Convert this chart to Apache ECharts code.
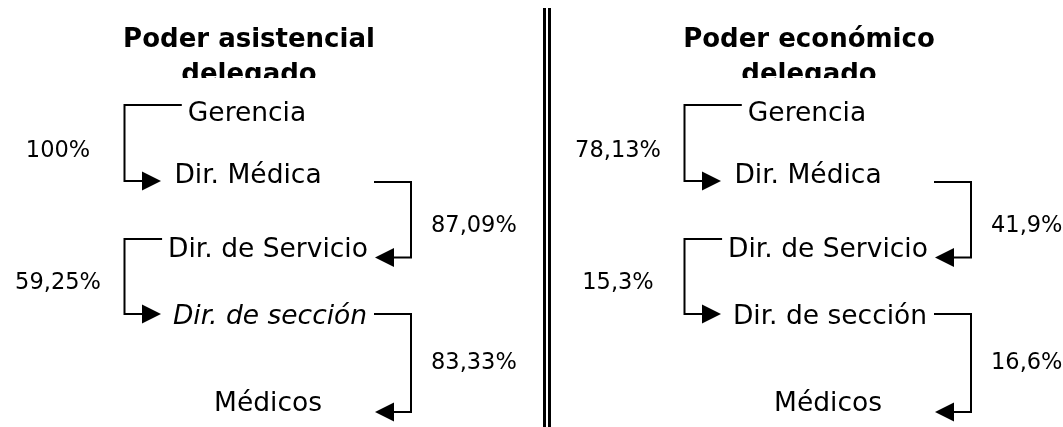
<!DOCTYPE html>
<html>
<head>
<meta charset="utf-8">
<title>Poder delegado</title>
<script src="https://cdn.jsdelivr.net/npm/echarts@6/dist/echarts.min.js"></script>
<style>
  html, body { margin: 0; padding: 0; background: #fff; }
  #chart { width: 1063px; height: 427px; }
</style>
</head>
<body>
<div id="chart"></div>
<script>
// datos
const levels = ['Gerencia', 'Dir. Médica', 'Dir. de Servicio', 'Dir. de sección', 'Médicos']
const panels = ['Poder asistencial\ndelegado', 'Poder económico\ndelegado']
const asistencial = [100, 87.09, 59.25, 83.33]
const economico = [78.13, 41.9, 15.3, 16.6]

// maquetación (px)
const FONT = '"DejaVu Sans", Verdana, sans-serif'
const NODE_SIZE = 26.5
const PCT_SIZE = 22.5
const AR = 19 // flecha
const rowShift = [0, -10.5, -9.5, -14.5, 0]
const nodeDx = [-11, -10, 10, 12, 10]
const linkSide = ['left', 'right', 'left', 'right']
const linkTop = [-7, 8, -8.5, -1]
const linkEnd = [7, 10, -1, 10]
const labelDy = [7, 5, 6, -1]

const measure = document.createElement('canvas').getContext('2d')
function textWidth(txt, size) {
  measure.font = size + 'px ' + FONT
  return measure.measureText(txt).width
}
function pct(v) {
  return String(v).replace('.', ',') + '%'
}

const nodeData = []
const linkData = []
;[asistencial, economico].forEach((vals, p) => {
  levels.forEach((name, i) => nodeData.push([p, i]))
  vals.forEach((v, i) => linkData.push([p, i, v]))
})

function renderNode(params, api) {
  const p = api.value(0)
  const i = api.value(1)
  const pt = api.coord([p, i])
  const italic = p === 0 && i === 3
  return {
    type: 'text',
    style: {
      text: levels[i],
      x: pt[0] + nodeDx[i],
      y: pt[1] + rowShift[i] + 2.5,
      align: 'center',
      verticalAlign: 'middle',
      font: (italic ? 'italic ' : '') + NODE_SIZE + 'px ' + FONT,
      fill: '#000'
    }
  }
}

function renderLink(params, api) {
  const p = api.value(0)
  const i = api.value(1)
  const v = api.value(2)
  const a = api.coord([p, i])
  const b = api.coord([p, i + 1])
  const px = a[0]
  const y0 = a[1] + rowShift[i] + linkTop[i]
  const y1 = b[1] + rowShift[i + 1] + linkEnd[i]
  let pts, arrow, lx, align
  if (linkSide[i] === 'left') {
    const vx = px - 133.5
    const tip = px - 97
    const startX = px + nodeDx[i] - textWidth(levels[i], NODE_SIZE) / 2 - 6
    pts = [[startX, y0], [vx, y0], [vx, y1], [tip - AR + 1, y1]]
    arrow = [[tip, y1], [tip - AR, y1 - AR / 2], [tip - AR, y1 + AR / 2]]
    lx = px - 200
    align = 'center'
  } else {
    const vx = px + 153
    const tip = px + 117
    pts = [[px + 116, y0], [vx, y0], [vx, y1], [tip + AR - 1, y1]]
    arrow = [[tip, y1], [tip + AR, y1 - AR / 2], [tip + AR, y1 + AR / 2]]
    lx = px + 173
    align = 'left'
  }
  return {
    type: 'group',
    children: [
      { type: 'polyline', shape: { points: pts }, style: { stroke: '#000', lineWidth: 2, fill: null } },
      { type: 'polygon', shape: { points: arrow }, style: { fill: '#000' } },
      {
        type: 'text',
        style: {
          text: pct(v),
          x: lx,
          y: (y0 + y1) / 2 + labelDy[i] + 1,
          align: align,
          verticalAlign: 'middle',
          font: PCT_SIZE + 'px ' + FONT,
          fill: '#000'
        }
      }
    ]
  }
}

const chart = echarts.init(document.getElementById('chart'))

chart.setOption({
  animation: false,
  backgroundColor: '#fff',
  grid: { left: 258, right: 245, top: 112, bottom: 25 },
  xAxis: { type: 'value', min: 0, max: 1, show: false },
  yAxis: { type: 'value', min: 0, max: 4, inverse: true, show: false },
  graphic: [
    {
      type: 'text', x: 249, y: 57.5, z: 1,
      style: { text: panels[0], align: 'center', verticalAlign: 'middle', lineHeight: 35,
        font: 'bold 26px ' + FONT, fill: '#000' }
    },
    {
      type: 'text', x: 809, y: 57.5, z: 1,
      style: { text: panels[1], align: 'center', verticalAlign: 'middle', lineHeight: 35,
        font: 'bold 26px ' + FONT, fill: '#000' }
    },
    // el texto del título queda cortado
    { type: 'rect', z: 10, shape: { x: 100, y: 78, width: 320, height: 22 }, style: { fill: '#fff' } },
    { type: 'rect', z: 10, shape: { x: 660, y: 78, width: 320, height: 22 }, style: { fill: '#fff' } },
    // doble línea separadora
    { type: 'rect', shape: { x: 543, y: 8, width: 3, height: 419 }, style: { fill: '#000' } },
    { type: 'rect', shape: { x: 548, y: 8, width: 3, height: 419 }, style: { fill: '#000' } }
  ],
  series: [
    {
      type: 'custom',
      clip: false,
      renderItem: renderLink,
      encode: { x: 0, y: 1 },
      data: linkData
    },
    {
      type: 'custom',
      clip: false,
      renderItem: renderNode,
      encode: { x: 0, y: 1 },
      data: nodeData
    }
  ]
})
</script>
</body>
</html>
